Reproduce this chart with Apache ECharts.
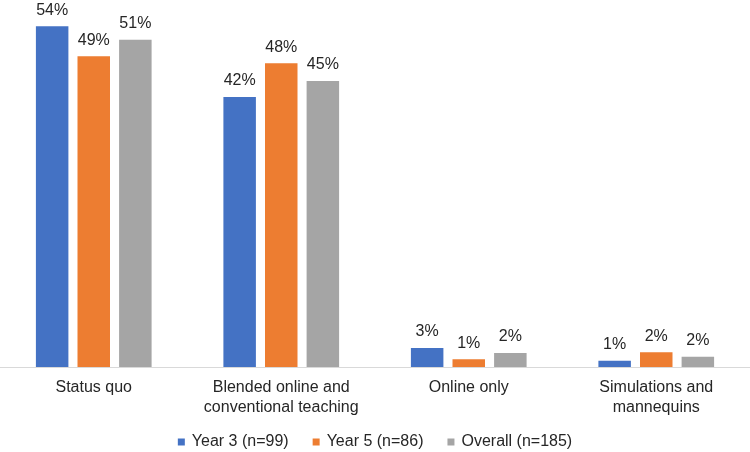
<!DOCTYPE html>
<html><head><meta charset="utf-8">
<script src="https://cdn.jsdelivr.net/npm/echarts@6/dist/echarts.min.js"></script>
<style>html,body{margin:0;padding:0;background:#fff}#c{width:750px;height:452px}</style>
</head><body><div id="c"></div>
<script>
const categories = ["Status quo", "Blended online and\nconventional teaching", "Online only", "Simulations and\nmannequins"];
const seriesNames = ["Year 3 (n=99)", "Year 5 (n=86)", "Overall (n=185)"];
const year3 = [53.5, 42.4, 3.0, 1.0];
const year5 = [48.8, 47.7, 1.2, 2.3];
const overall = [51.4, 44.9, 2.2, 1.6];
const colors = ["#4472C4", "#ED7D31", "#A5A5A5"];

const chart = echarts.init(document.getElementById('c'), null, {renderer: 'canvas'});
const mk = (name, data, color) => ({
  name, type: 'bar', data, barWidth: 32.5, barGap: '28%',
  itemStyle: {color},
  label: {show: true, position: 'top', distance: 8, color: '#262626',
    fontFamily: 'Liberation Sans, Arial, sans-serif', fontSize: 16,
    formatter: p => Math.round(p.value) + '%'}
});
chart.setOption({
  animation: false,
  textStyle: {fontFamily: 'Liberation Sans, Arial, sans-serif'},
  grid: {left: 0, right: 0, top: 4, bottom: 85, containLabel: false},
  legend: {
    top: 429, left: 'center', itemWidth: 7, itemHeight: 7, itemGap: 24,
    icon: 'rect',
    textStyle: {color: '#262626', fontSize: 16, fontFamily: 'Liberation Sans, Arial, sans-serif', padding: [0, 0, 0, 2]},
    data: seriesNames
  },
  xAxis: {
    type: 'category', data: categories,
    axisLine: {lineStyle: {color: '#D9D9D9', width: 1}},
    axisTick: {show: false},
    axisLabel: {color: '#262626', fontSize: 16, lineHeight: 20, margin: 11,
      fontFamily: 'Liberation Sans, Arial, sans-serif', interval: 0}
  },
  yAxis: {type: 'value', min: 0, max: 57, show: false, splitLine: {show: false}},
  series: [mk(seriesNames[0], year3, colors[0]), mk(seriesNames[1], year5, colors[1]), mk(seriesNames[2], overall, colors[2])]
});
</script></body></html>
